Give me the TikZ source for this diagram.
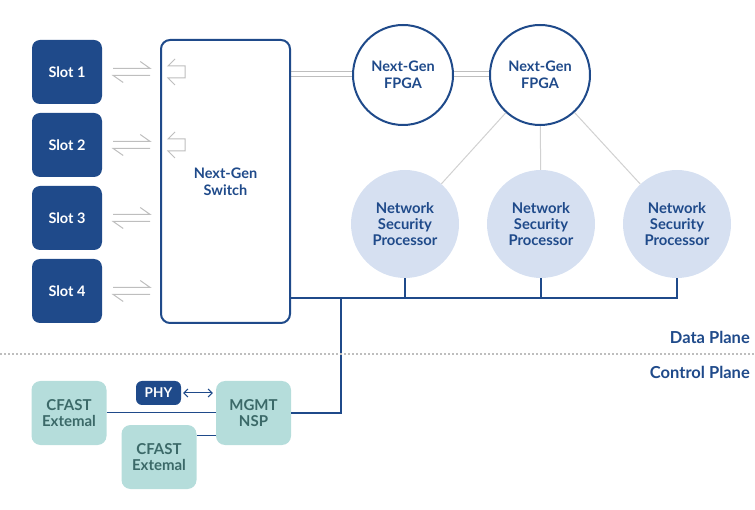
\documentclass[tikz,border=0pt]{standalone}
\usepackage{fontspec}
\setmainfont{Lato}
\usetikzlibrary{arrows.meta,backgrounds}
\definecolor{navy}{HTML}{1F4A8A}
\definecolor{nspfill}{HTML}{D6E0F1}
\definecolor{tealfill}{HTML}{B5DDDB}
\definecolor{tealtext}{HTML}{3B6968}
\definecolor{greyline}{HTML}{BEBEBE}
\begin{document}
\begin{tikzpicture}[x=1pt,y=-1pt,
  slotbox/.style={fill=navy, rounded corners=8pt, minimum width=70pt, minimum height=64pt, inner sep=0pt, text=white, font=\fontsize{14.5}{16}\selectfont\bfseries},
  switchbox/.style={draw=navy, fill=white, line width=2pt, rounded corners=9pt, minimum width=129pt, minimum height=283pt, inner sep=0pt, text=navy, align=center, font=\fontsize{14.5}{17}\selectfont\bfseries},
  fpga/.style={circle, draw=navy, fill=white, line width=2pt, minimum size=100pt, inner sep=0pt, text=navy, align=center, font=\fontsize{14.5}{17}\selectfont\bfseries},
  nsp/.style={circle, fill=nspfill, minimum size=108pt, inner sep=0pt, text=navy, align=center, font=\fontsize{14.8}{16}\selectfont\bfseries},
  tealbox/.style={fill=tealfill, rounded corners=9pt, minimum width=75pt, minimum height=64pt, inner sep=0pt, text=tealtext, align=center, font=\fontsize{15}{16}\selectfont\bfseries},
  phybox/.style={fill=navy, rounded corners=6pt, minimum width=45pt, minimum height=24pt, inner sep=0pt, text=white, font=\fontsize{13.5}{15}\selectfont\bfseries},
  planelabel/.style={anchor=east, inner sep=0pt, text=navy, font=\fontsize{16.5}{18}\selectfont\bfseries},
  dbl/.style={draw=greyline, line width=1pt},
  harp/.style={draw=greyline, line width=1pt},
  bus/.style={draw=navy, line width=1.3pt},
  thinline/.style={draw=navy, line width=1pt},
  spoke/.style={draw=greyline!70, line width=1pt}
]
\useasboundingbox (0,0) rectangle (755,510);

% slots
\node[slotbox] (s1) at (67,72) {Slot 1};
\node[slotbox] (s2) at (67,145) {Slot 2};
\node[slotbox] (s3) at (67,218) {Slot 3};
\node[slotbox] (s4) at (67,291) {Slot 4};

% switch
\node[switchbox] (sw) at (225.5,181.5) {Next-Gen\\Switch};

% FPGAs
\node[fpga] (f1) at (403,75) {Next-Gen\\FPGA};
\node[fpga] (f2) at (540,75) {Next-Gen\\FPGA};

% NSPs
\node[nsp] (n1) at (405,224) {Network\\Security\\Processor};
\node[nsp] (n2) at (541,224) {Network\\Security\\Processor};
\node[nsp] (n3) at (677,224) {Network\\Security\\Processor};

% control plane
\node[tealbox] (c1) at (69,413) {CFAST\\Extemal};
\node[tealbox] (m) at (253.5,413) {MGMT\\NSP};
\node[tealbox] (c2) at (159,457) {CFAST\\Extemal};
\node[phybox] (phy) at (158.5,393) {PHY};

\node[planelabel] (dp) at (750,337) {Data Plane};
\node[planelabel] (cp) at (750,372) {Control Plane};

\begin{scope}[on background layer]
  % harpoons between slots and switch
  \foreach \s in {s1,s2,s3,s4}{
    \draw[harp] ([xshift=11pt,yshift=3.5pt]\s.east) -- ([xshift=48pt,yshift=3.5pt]\s.east) -- ([xshift=38pt,yshift=10.5pt]\s.east);
    \draw[harp] ([xshift=48pt,yshift=-3.5pt]\s.east) -- ([xshift=11pt,yshift=-3.5pt]\s.east) -- ([xshift=21pt,yshift=-10.5pt]\s.east);
  }
  % double links
  \draw[dbl] ([yshift=3pt]sw.east |- f1.west) -- ([yshift=3pt,xshift=2pt]f1.west);
  \draw[dbl] ([yshift=-2pt]sw.east |- f1.west) -- ([yshift=-2pt,xshift=2pt]f1.west);
  \draw[dbl] ([yshift=3pt,xshift=-2pt]f1.east) -- ([yshift=3pt,xshift=2pt]f2.west);
  \draw[dbl] ([yshift=-2pt,xshift=-2pt]f1.east) -- ([yshift=-2pt,xshift=2pt]f2.west);
  % spokes
  \draw[spoke] (f2) -- (n1);
  \draw[spoke] (f2) -- (n2);
  \draw[spoke] (f2) -- (n3);
\end{scope}

% u-turn symbols inside the switch
\foreach \y in {66,139}{
  \draw[harp] (175,\y-7) -- (168,\y) -- (185,\y) -- (185,\y+12) -- (168,\y+12) -- (175,\y+19);
}

% bus
\coordinate (tap) at (341,298);
\draw[bus] (sw.east |- tap) -- (n3.south |- tap) -- (n3.south);
\draw[bus] (n1.south) -- (n1.south |- tap);
\draw[bus] (n2.south) -- (n2.south |- tap);
\draw[bus] (tap) -- (tap |- m.east) -- (m.east);

% divider
\draw[greyline, line width=1.5pt, dash pattern=on 1.6pt off 2.4pt] (0,354) -- (755,354);

% control links
\draw[thinline] (c1.east) -- (m.west);
\draw[thinline] (c2.east |- 0,435) -- (m.west |- 0,435);
\draw[thinline, {Straight Barb[length=4pt,width=8pt]}-{Straight Barb[length=4pt,width=8pt]}] ([xshift=2pt]phy.east) -- ([xshift=-3pt]m.west |- phy.east);
\end{tikzpicture}
\end{document}
